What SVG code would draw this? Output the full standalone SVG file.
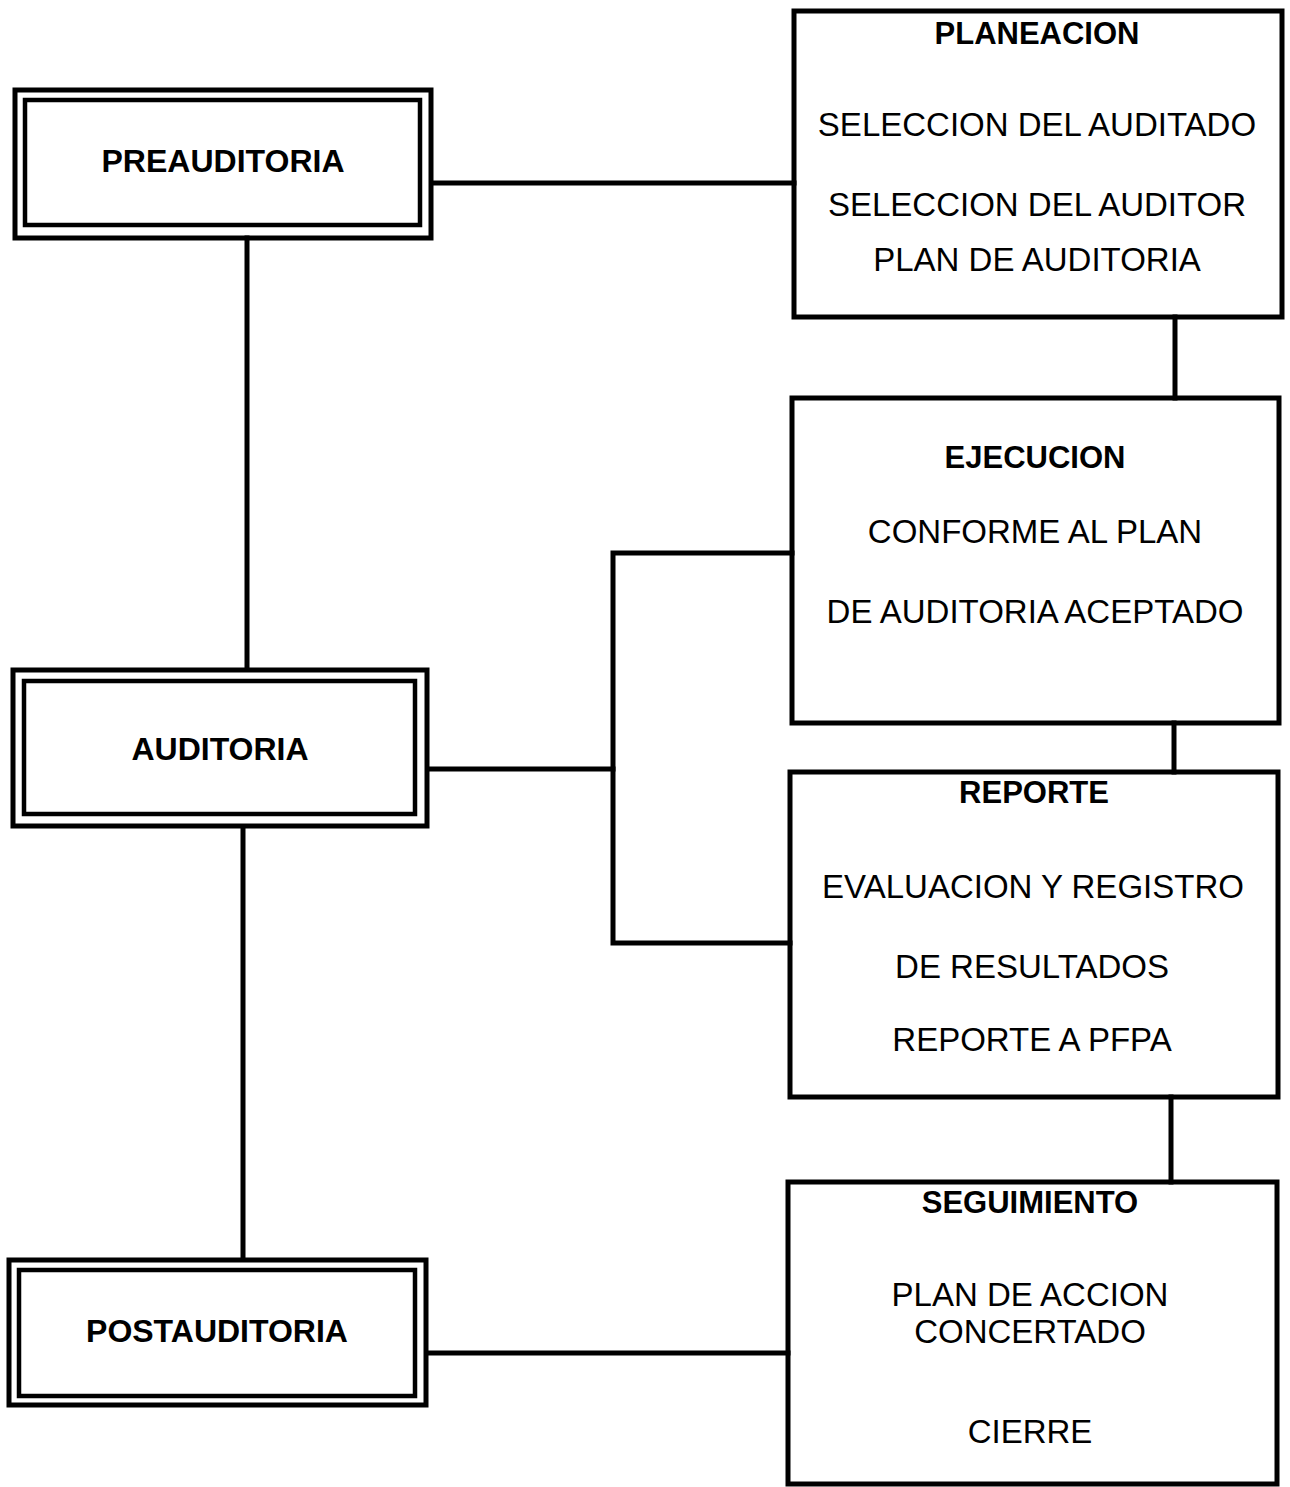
<svg xmlns="http://www.w3.org/2000/svg" width="1290" height="1487" viewBox="0 0 1290 1487">
<style>
.bg{fill:#fff}
.box{fill:none;stroke:#000;stroke-width:5}
.in{fill:none;stroke:#000;stroke-width:4.5}
.c{fill:none;stroke:#000;stroke-width:5;stroke-linecap:square}
.t{font-family:"Liberation Sans",Arial,sans-serif;font-size:33px;fill:#000;text-anchor:middle}
.b{font-family:"Liberation Sans",Arial,sans-serif;font-weight:bold;font-size:31px;fill:#000;text-anchor:middle}
.bl{font-family:"Liberation Sans",Arial,sans-serif;font-weight:bold;font-size:32px;fill:#000;text-anchor:middle}
</style>
<rect class="bg" x="0" y="0" width="1290" height="1487"/>
<g id="connectors">
<line class="c" x1="432" y1="183" x2="794" y2="183"/>
<line class="c" x1="247" y1="238" x2="247" y2="668"/>
<line class="c" x1="243" y1="827" x2="243" y2="1258"/>
<line class="c" x1="1175" y1="317" x2="1175" y2="398"/>
<line class="c" x1="1174" y1="723" x2="1174" y2="772"/>
<line class="c" x1="1171" y1="1097" x2="1171" y2="1182"/>
<line class="c" x1="428" y1="769" x2="613" y2="769"/>
<polyline class="c" points="792,553 613,553 613,943 790,943"/>
<line class="c" x1="427" y1="1353" x2="788" y2="1353"/>
</g>
<g id="preauditoria">
<rect class="box" x="15" y="90" width="416" height="148"/>
<rect class="in" x="25" y="100" width="395" height="125"/>
<text class="bl" x="223" y="172">PREAUDITORIA</text>
</g>
<g id="auditoria">
<rect class="box" x="13" y="670" width="414" height="156"/>
<rect class="in" x="24" y="681" width="391" height="133"/>
<text class="bl" x="220" y="760">AUDITORIA</text>
</g>
<g id="postauditoria">
<rect class="box" x="9" y="1260" width="417" height="145"/>
<rect class="in" x="19" y="1270" width="396" height="126"/>
<text class="bl" x="217" y="1342">POSTAUDITORIA</text>
</g>
<g id="planeacion">
<rect class="box" x="794" y="11" width="488" height="306"/>
<text class="b" x="1037" y="44">PLANEACION</text>
<text class="t" x="1037" y="136">SELECCION DEL AUDITADO</text>
<text class="t" x="1037" y="216">SELECCION DEL AUDITOR</text>
<text class="t" x="1037" y="271">PLAN DE AUDITORIA</text>
</g>
<g id="ejecucion">
<rect class="box" x="792" y="398" width="487" height="325"/>
<text class="b" x="1035" y="468">EJECUCION</text>
<text class="t" x="1035" y="543">CONFORME AL PLAN</text>
<text class="t" x="1035" y="623">DE AUDITORIA ACEPTADO</text>
</g>
<g id="reporte">
<rect class="box" x="790" y="772" width="488" height="325"/>
<text class="b" x="1034" y="803">REPORTE</text>
<text class="t" x="1033" y="898">EVALUACION Y REGISTRO</text>
<text class="t" x="1032" y="978">DE RESULTADOS</text>
<text class="t" x="1032" y="1051">REPORTE A PFPA</text>
</g>
<g id="seguimiento">
<rect class="box" x="788" y="1182" width="489" height="302"/>
<text class="b" x="1030" y="1213">SEGUIMIENTO</text>
<text class="t" x="1030" y="1306">PLAN DE ACCION</text>
<text class="t" x="1030" y="1343">CONCERTADO</text>
<text class="t" x="1030" y="1443">CIERRE</text>
</g>
</svg>
